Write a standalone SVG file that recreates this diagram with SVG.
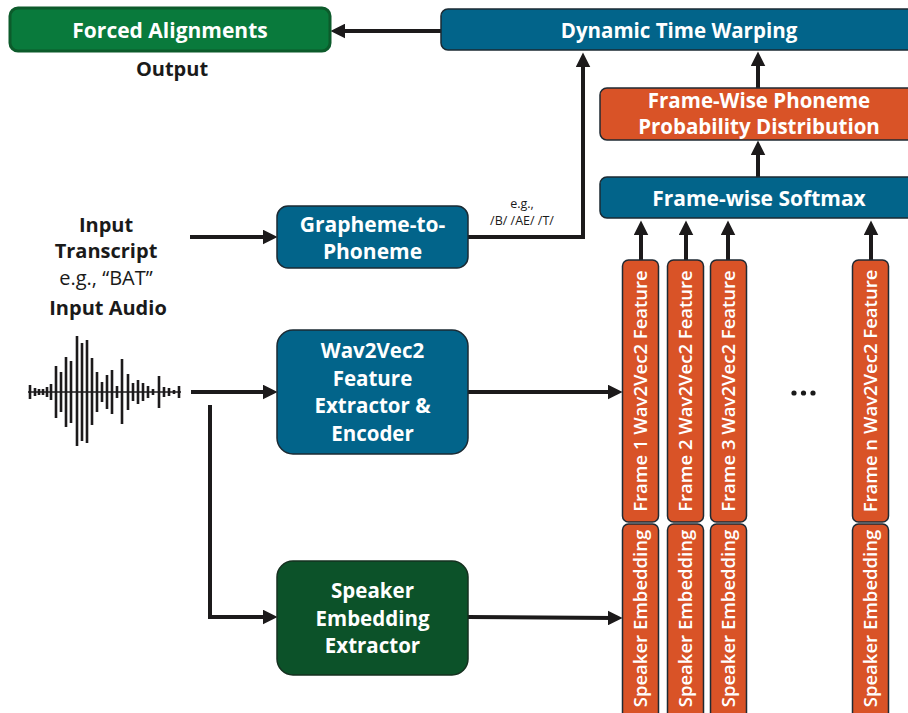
<svg xmlns="http://www.w3.org/2000/svg" width="908" height="713" viewBox="0 0 908 713">
<defs>
<style>
.blue{fill:#02648a;stroke:#1b2a33;stroke-width:1.5}
.orange{fill:#d95327;stroke:#1f2a33;stroke-width:1.5}
.dgreen{fill:#0c5229;stroke:#15301f;stroke-width:1.5}
.wt{fill:#ffffff;font-family:"Open Sans","Liberation Sans",sans-serif;font-weight:700;text-anchor:middle}
.bt{fill:#1a1a1a;font-family:"Open Sans","Liberation Sans",sans-serif;font-weight:700;text-anchor:middle}
.rt{fill:#1a1a1a;font-family:"Open Sans","Liberation Sans",sans-serif;font-weight:400;text-anchor:middle}
.col{fill:#ffffff;font-family:"Open Sans","Liberation Sans",sans-serif;font-weight:600;font-size:18.5px;text-anchor:middle}
.conn{fill:none;stroke:#1c1a1b;stroke-width:4}
.wave line{stroke:#1c1a1b;stroke-width:2.6}
</style>
<marker id="ah" markerUnits="userSpaceOnUse" markerWidth="15" markerHeight="15" viewBox="0 0 14 14" refX="6" refY="7" orient="auto">
<path d="M0,0 L14,7 L0,14 z" fill="#1c1a1b"/>
</marker>
</defs>
<rect width="908" height="713" fill="#ffffff"/>

<g id="connectors">
<path class="conn" d="M441,31 L339,31" marker-end="url(#ah)"/>
<path class="conn" d="M190,237 L269,237" marker-end="url(#ah)"/>
<path class="conn" d="M468,237 L583,237 L583,61" marker-end="url(#ah)"/>
<path class="conn" d="M758,88 L758,60" marker-end="url(#ah)"/>
<path class="conn" d="M758,177 L758,149" marker-end="url(#ah)"/>
<path class="conn" d="M641,260 L641,229" marker-end="url(#ah)"/>
<path class="conn" d="M686,260 L686,229" marker-end="url(#ah)"/>
<path class="conn" d="M728,260 L728,229" marker-end="url(#ah)"/>
<path class="conn" d="M871,260 L871,229" marker-end="url(#ah)"/>
<path class="conn" d="M191,392 L269,392" marker-end="url(#ah)"/>
<path class="conn" d="M468,392 L614,392" marker-end="url(#ah)"/>
<path class="conn" d="M210,405 L210,617 L269,617" marker-end="url(#ah)"/>
<path class="conn" d="M468,617 L614,618" marker-end="url(#ah)"/>
</g>

<g id="forced-alignments">
<rect x="10" y="8" width="320" height="43" rx="8" fill="#097a3c" stroke="#0c5b2b" stroke-width="3"/>
<text class="wt" x="170" y="37.5" font-size="21">Forced Alignments</text>
</g>
<g id="output-label"><text class="bt" x="172" y="75.5" font-size="20">Output</text></g>

<g id="dtw">
<rect class="blue" x="441" y="9" width="480" height="41" rx="7"/>
<text class="wt" x="679" y="37.5" font-size="20.5">Dynamic Time Warping</text>
</g>

<g id="phoneme-dist">
<rect class="orange" x="600" y="88" width="320" height="52" rx="7"/>
<text class="wt" x="759" y="107.5" font-size="20.5">Frame-Wise Phoneme</text>
<text class="wt" x="759" y="133.5" font-size="20.5">Probability Distribution</text>
</g>

<g id="softmax">
<rect class="blue" x="600" y="177" width="320" height="41" rx="7"/>
<text class="wt" x="759" y="205.5" font-size="21">Frame-wise Softmax</text>
</g>

<g id="input-transcript">
<text class="bt" x="106" y="232" font-size="20">Input</text>
<text class="bt" x="106" y="258" font-size="20">Transcript</text>
<text class="rt" x="106" y="285" font-size="20">e.g., “BAT”</text>
</g>

<g id="g2p">
<rect class="blue" x="277" y="206" width="191" height="62" rx="11"/>
<text class="wt" x="372.5" y="231.5" font-size="21">Grapheme-to-</text>
<text class="wt" x="372.5" y="258.5" font-size="21">Phoneme</text>
</g>
<g id="g2p-label">
<text class="rt" x="522" y="208" font-size="12.5">e.g.,</text>
<text class="rt" x="522" y="225" font-size="12.5">/B/ /AE/ /T/</text>
</g>

<g id="input-audio">
<text class="bt" x="108" y="315" font-size="20">Input Audio</text>
<g class="wave">
<line x1="28" y1="392" x2="181" y2="392" style="stroke-width:1.6"/>
<line x1="30" y1="385" x2="30" y2="399"/>
<line x1="35" y1="388" x2="35" y2="396"/>
<line x1="39" y1="389" x2="39" y2="395"/>
<line x1="43" y1="389" x2="43" y2="395"/>
<line x1="47" y1="387" x2="47" y2="397"/>
<line x1="51" y1="384" x2="51" y2="400"/>
<line x1="56" y1="366" x2="56" y2="418"/>
<line x1="61" y1="372" x2="61" y2="412"/>
<line x1="66" y1="357" x2="66" y2="427"/>
<line x1="71" y1="361" x2="71" y2="423"/>
<line x1="77" y1="336" x2="77" y2="446"/>
<line x1="82" y1="343" x2="82" y2="441"/>
<line x1="87" y1="340" x2="87" y2="443"/>
<line x1="92" y1="358" x2="92" y2="425"/>
<line x1="97" y1="372" x2="97" y2="412"/>
<line x1="102" y1="382" x2="102" y2="402"/>
<line x1="107" y1="375" x2="107" y2="409"/>
<line x1="112" y1="370" x2="112" y2="414"/>
<line x1="117" y1="386" x2="117" y2="398"/>
<line x1="122" y1="359" x2="122" y2="424"/>
<line x1="128" y1="374" x2="128" y2="410"/>
<line x1="133" y1="383" x2="133" y2="401"/>
<line x1="138" y1="380" x2="138" y2="404"/>
<line x1="143" y1="383" x2="143" y2="401"/>
<line x1="148" y1="386" x2="148" y2="398"/>
<line x1="153" y1="389" x2="153" y2="395"/>
<line x1="159" y1="376" x2="159" y2="408"/>
<line x1="164" y1="387" x2="164" y2="397"/>
<line x1="169" y1="388" x2="169" y2="396"/>
<line x1="174" y1="390" x2="174" y2="394"/>
<line x1="179" y1="386" x2="179" y2="398"/>
</g>
</g>

<g id="wav2vec2">
<rect class="blue" x="277" y="330" width="191" height="124" rx="16"/>
<text class="wt" x="372.5" y="357.5" font-size="20.5">Wav2Vec2</text>
<text class="wt" x="372.5" y="385.5" font-size="20.5">Feature</text>
<text class="wt" x="372.5" y="413" font-size="20.5">Extractor &amp;</text>
<text class="wt" x="372.5" y="440.5" font-size="20.5">Encoder</text>
</g>

<g id="speaker-extractor">
<rect class="dgreen" x="277" y="561" width="191" height="114" rx="16"/>
<text class="wt" x="372.5" y="597.5" font-size="20.5">Speaker</text>
<text class="wt" x="372.5" y="625.5" font-size="20.5">Embedding</text>
<text class="wt" x="372.5" y="653" font-size="20.5">Extractor</text>
</g>

<g id="frame-1">
<rect class="orange" x="622.5" y="260" width="36" height="262" rx="6"/>
<text class="col" transform="translate(647,391) rotate(-90)">Frame 1 Wav2Vec2 Feature</text>
<rect class="orange" x="622.5" y="524" width="36" height="200" rx="6"/>
<text class="col" transform="translate(647,618.5) rotate(-90)">Speaker Embedding</text>
</g>
<g id="frame-2">
<rect class="orange" x="667.5" y="260" width="36" height="262" rx="6"/>
<text class="col" transform="translate(692,391) rotate(-90)">Frame 2 Wav2Vec2 Feature</text>
<rect class="orange" x="667.5" y="524" width="36" height="200" rx="6"/>
<text class="col" transform="translate(692,618.5) rotate(-90)">Speaker Embedding</text>
</g>
<g id="frame-3">
<rect class="orange" x="710.5" y="260" width="36" height="262" rx="6"/>
<text class="col" transform="translate(735,391) rotate(-90)">Frame 3 Wav2Vec2 Feature</text>
<rect class="orange" x="710.5" y="524" width="36" height="200" rx="6"/>
<text class="col" transform="translate(735,618.5) rotate(-90)">Speaker Embedding</text>
</g>
<g id="frame-n">
<rect class="orange" x="852.5" y="260" width="36" height="262" rx="6"/>
<text class="col" transform="translate(877,391) rotate(-90)">Frame n Wav2Vec2 Feature</text>
<rect class="orange" x="852.5" y="524" width="36" height="200" rx="6"/>
<text class="col" transform="translate(877,618.5) rotate(-90)">Speaker Embedding</text>
</g>

<g id="ellipsis" fill="#1a1a1a">
<circle cx="794" cy="393" r="2.6"/>
<circle cx="803.5" cy="393" r="2.6"/>
<circle cx="813" cy="393" r="2.6"/>
</g>
</svg>
